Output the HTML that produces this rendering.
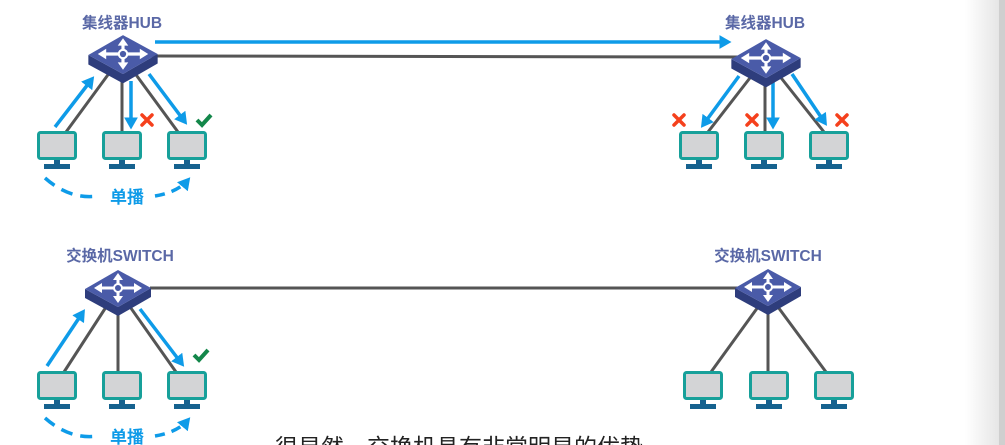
<!DOCTYPE html>
<html><head><meta charset="utf-8"><style>
html,body{margin:0;padding:0;background:#fff;width:1005px;height:445px;overflow:hidden}
svg{display:block}
</style></head><body>
<svg width="1005" height="445" viewBox="0 0 1005 445" xmlns="http://www.w3.org/2000/svg">
<defs>
 <linearGradient id="edge" x1="0" x2="1"><stop offset="0" stop-color="#fff"/><stop offset="1" stop-color="#e6e6e6"/></linearGradient>
 <g id="pc">
  <rect x="-18.5" y="1.5" width="37" height="26" rx="2" fill="#d3d4d6" stroke="#17a09a" stroke-width="3"/>
  <rect x="-3" y="29" width="6" height="5" fill="#16628f"/>
  <rect x="-13" y="33" width="26" height="5" fill="#16628f"/>
 </g>
 <g id="dev">
  <polygon points="-33,1 0,19 33,0 33,9 0,28 -33,10" fill="#2e3d7c"/>
  <polygon points="0,-18 33,0 0,19 -33,1" fill="#4a5ba8"/>
  <g stroke="#fff" stroke-width="3" fill="#fff">
   <line x1="-20" y1="0" x2="20" y2="0"/><line x1="0" y1="-12" x2="0" y2="12"/>
  </g>
  <g fill="#fff">
   <polygon points="-24,0 -16,-5 -16,5"/><polygon points="24,0 16,-5 16,5"/>
   <polygon points="0,-15 -5,-8 5,-8"/><polygon points="0,15 -5,8 5,8"/>
  </g>
  <circle cx="0" cy="0" r="4" fill="#4a5ba8" stroke="#fff" stroke-width="2"/>
 </g>
 <marker id="ah" markerWidth="4" markerHeight="4" refX="2.5" refY="2" orient="auto" markerUnits="strokeWidth"><path d="M0,0 L3.5,2 L0,4 z" fill="#0e9be8"/></marker>
 <g id="x"><path d="M-5,-5 L5,5 M5,-5 L-5,5" stroke="#f5401c" stroke-width="3.5" stroke-linecap="round"/></g>
 <g id="ok"><path d="M-7,0 L-2,5 L7,-5" stroke="#13874a" stroke-width="4" fill="none"/></g>
</defs>
<rect x="965" y="0" width="34" height="445" fill="url(#edge)"/>
<rect x="999" y="0" width="6" height="445" fill="#cfcfcf"/>

<g font-family="Liberation Sans, Noto Sans CJK SC, sans-serif" font-weight="bold" font-size="15.5" fill="#5a68a6" text-anchor="middle">
 <text x="122" y="28">集线器HUB</text>
 <text x="765" y="28">集线器HUB</text>
 <text x="120" y="261">交换机SWITCH</text>
 <text x="768" y="261">交换机SWITCH</text>
</g>

<g stroke="#555" stroke-width="3">
 <line x1="150" y1="56" x2="740" y2="57"/>
 <line x1="110" y1="72" x2="66" y2="132"/><line x1="122" y1="76" x2="122" y2="132"/><line x1="134" y1="72" x2="178" y2="132"/>
 <line x1="753" y1="74" x2="708" y2="132"/><line x1="765" y1="78" x2="765" y2="132"/><line x1="778" y1="74" x2="824" y2="132"/>
 <line x1="150" y1="288" x2="740" y2="288"/>
 <line x1="108" y1="304" x2="64" y2="372"/><line x1="118" y1="307" x2="118" y2="372"/><line x1="128" y1="304" x2="176" y2="372"/>
 <line x1="758" y1="307" x2="711" y2="372"/><line x1="768" y1="307" x2="768" y2="372"/><line x1="778" y1="307" x2="826" y2="372"/>
</g>

<g stroke="#0e9be8" stroke-width="3.5" fill="none" marker-end="url(#ah)">
 <line x1="155" y1="42" x2="728" y2="42"/>
 <line x1="55" y1="127" x2="92" y2="79"/>
 <line x1="131" y1="81" x2="131" y2="126"/>
 <line x1="149" y1="74" x2="185" y2="122"/>
 <line x1="739" y1="76" x2="703" y2="125"/>
 <line x1="773" y1="82" x2="773" y2="126"/>
 <line x1="792" y1="74" x2="825" y2="123"/>
 <line x1="47" y1="366" x2="83" y2="312"/>
 <line x1="140" y1="309" x2="182" y2="364"/>
</g>
<g stroke="#0e9be8" stroke-width="3.5" fill="none" stroke-dasharray="12,8">
 <path d="M45,178 Q70,200 98,196"/>
 <path d="M155,196 Q178,192 188,180" marker-end="url(#ah)" stroke-dasharray="10,7"/>
 <path d="M45,418 Q70,440 98,436"/>
 <path d="M155,436 Q178,432 188,420" marker-end="url(#ah)" stroke-dasharray="10,7"/>
</g>
<g font-family="Liberation Sans, Noto Sans CJK SC, sans-serif" font-weight="bold" font-size="17" fill="#0e9be8" text-anchor="middle">
 <text x="127" y="203">单播</text>
 <text x="127" y="443">单播</text>
</g>

<g transform="translate(123,54) scale(1.05)"><use href="#dev"/></g>
<g transform="translate(766,58) scale(1.05)"><use href="#dev"/></g>
<g transform="translate(118,288)"><use href="#dev"/></g>
<g transform="translate(768,287)"><use href="#dev"/></g>

<use href="#pc" x="57" y="131"/><use href="#pc" x="122" y="131"/><use href="#pc" x="187" y="131"/>
<use href="#pc" x="699" y="131"/><use href="#pc" x="764" y="131"/><use href="#pc" x="829" y="131"/>
<use href="#pc" x="57" y="371"/><use href="#pc" x="122" y="371"/><use href="#pc" x="187" y="371"/>
<use href="#pc" x="703" y="371"/><use href="#pc" x="769" y="371"/><use href="#pc" x="834" y="371"/>

<use href="#x" x="147" y="120"/>
<use href="#ok" x="204" y="120"/>
<use href="#x" x="679" y="120"/><use href="#x" x="752" y="120"/><use href="#x" x="842" y="120"/>
<use href="#ok" x="201" y="355"/>

<text x="275" y="455" font-family="Liberation Sans, Noto Sans CJK SC, sans-serif" font-size="23" fill="#222" stroke="#fff" stroke-width="1" paint-order="stroke">很显然，交换机具有非常明显的优势</text>
</svg>
</body></html>
